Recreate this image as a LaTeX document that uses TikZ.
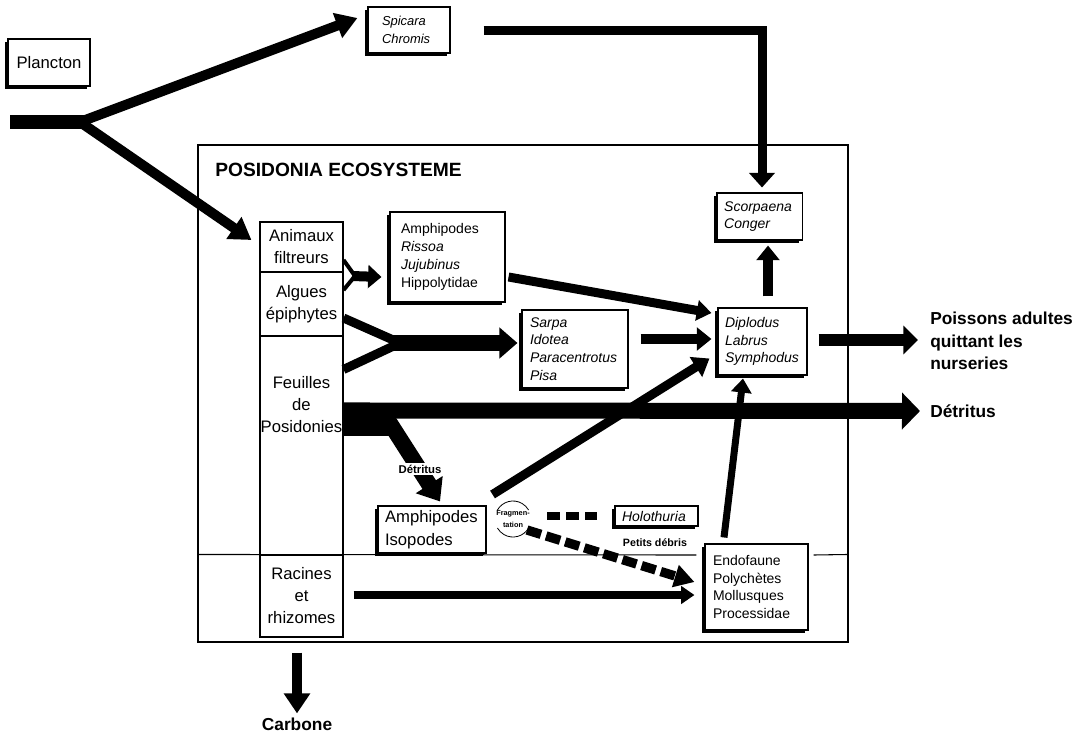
\documentclass[tikz,border=0pt]{standalone}
\usepackage{fontspec}
\setmainfont{Liberation Sans}
\usetikzlibrary{arrows.meta,calc,shadows,backgrounds}
\newcommand\FtBig{\fontsize{12.5}{16.5}\selectfont}
\newcommand\FtSm{\fontsize{10.5}{13.4}\selectfont}
\newcommand\FtBold{\fontsize{13}{17}\selectfont\bfseries}
\begin{document}
\begin{tikzpicture}[x=0.75pt,y=-0.75pt,
  box/.style={draw, fill=white, line width=0.8pt, align=left, inner ysep=0pt,
    drop shadow={shadow xshift=-2.4pt, shadow yshift=-2.4pt, fill=black, opacity=1}},
  cell/.style={draw, line width=0.8pt, minimum width=62.25pt, inner sep=0pt, align=center, font=\FtBig},
  arr/.style n args={3}{line width=#1, -{Triangle[length=#2,width=#3]}},
  lbl/.style={font=\FtBold, align=left, inner sep=0pt}]
\useasboundingbox (0,0) rectangle (1079,733);

% frame
\node[draw, line width=1.2pt, minimum width=487.5pt, minimum height=372.75pt, inner sep=0pt] (eco) at (523,393.5) {};
\node[anchor=west, font=\fontsize{14.4}{17}\selectfont\bfseries, inner sep=0pt] (title) at (215,170) {POSIDONIA ECOSYSTEME};

% left column
\node[cell, minimum height=37.5pt] (animaux) at (301.5,247) {Animaux\\filtreurs};
\node[cell, minimum height=48pt] (algues) at (301.5,304) {Algues\\épiphytes};
\node[cell, minimum height=164.25pt] (feuilles) at (301.5,445.5) {};
\node[font=\FtBig, align=center, inner sep=0pt] (feuillesL) at (301.5,405) {Feuilles\\de\\Posidonies};
\node[cell, minimum height=61.5pt] (racines) at (301.5,596) {Racines\\et\\rhizomes};

% boxes
\node[box, align=center, minimum width=61.5pt, minimum height=35.25pt, font=\FtBig] (plancton) at (49,62.5) {Plancton};
\node[box, text width=40.5pt, inner xsep=10.5pt, minimum height=34.5pt, font=\fontsize{9.7}{13.5}\selectfont\itshape] (spicara) at (409,30) {Spicara\\Chromis};
\node[box, text width=69.75pt, inner xsep=8.25pt, minimum height=67.5pt, font=\FtSm] (amph1) at (447.5,257) {Amphipodes\\\textit{Rissoa}\\\textit{Jujubinus}\\Hippolytidae};
\node[box, text width=67.5pt, inner xsep=6pt, minimum height=58.5pt, font=\FtSm\itshape] (sarpa) at (575,349) {Sarpa\\Idotea\\Paracentrotus\\Pisa};
\node[box, text width=53pt, inner xsep=5.4pt, minimum height=35.25pt, font=\FtSm\itshape] (scorp) at (759.5,216.5) {Scorpaena\\Conger};
\node[box, text width=56.25pt, inner xsep=5.25pt, minimum height=50.25pt, font=\FtSm\itshape] (diplo) at (762.5,341.5) {Diplodus\\Labrus\\Symphodus};
\node[box, text width=70.5pt, inner xsep=5.25pt, minimum height=35.25pt, font=\fontsize{12.5}{17}\selectfont] (amph2) at (432,529.5) {Amphipodes\\Isopodes};
\node[box, text width=51.75pt, inner xsep=5.25pt, minimum height=15pt, font=\FtSm\itshape] (holo) at (656.5,516) {Holothuria};
\node[box, text width=65.25pt, inner xsep=6pt, minimum height=64.5pt, font=\FtSm] (endo) at (756.5,587) {Endofaune\\Polychètes\\Mollusques\\Processidae};

% labels
\node[lbl, anchor=west] (poissons) at (930,341) {Poissons adultes\\quittant les\\nurseries};
\node[lbl, anchor=west] (detr) at (930,411) {Détritus};
\node[lbl] (carbone) at (297,724) {Carbone};
\node[fill=white, inner sep=1pt, font=\fontsize{8.5}{10}\selectfont\bfseries] (detr2) at (420,469) {Détritus};
\node[font=\fontsize{8}{10}\selectfont\bfseries, inner sep=0pt] (petits) at (655,543) {Petits débris};
\node[font=\fontsize{5.5}{9.5}\selectfont\bfseries, align=center, inner sep=0pt] (frag) at (513,519) {Fragmen-\\tation};
\draw[line width=0.6pt] ([shift={(210:18)}]frag.center) arc[start angle=210,end angle=330,radius=18];
\draw[line width=0.6pt] ([shift={(30:18)}]frag.center) arc[start angle=30,end angle=150,radius=18];

\begin{pgfonlayer}{background}
\fill[white] (0,0) rectangle (1079,733);
% divider
\draw[line width=0.8pt] (eco.west |- racines.north) -- ($(endo.west)+(-8,-32)$);
\draw[line width=0.8pt] ($(endo.east)+(5,-32)$) -- (eco.east |- racines.north);

% plancton input
\coordinate (src) at (10,122);
\coordinate (split) at (80,122);
\draw[line width=10.5pt] (src) -- ($(split)+(8,0)$);
\draw[arr={7.5pt}{16pt}{19pt}] (split) -- ($(spicara.west)+(-10,-12)$);
\draw[arr={7.5pt}{16pt}{19pt}] (split) -- ($(animaux.west)+(-8,-7)$);

% spicara -> scorpaena
\draw[arr={6.75pt}{11pt}{19pt}] ($(spicara.east)+(33,0)$) -| ($(scorp.north)+(2.5,-5)$);
% diplodus -> scorpaena
\draw[arr={7.5pt}{11pt}{17pt}] ($(diplo.north)+(5.5,-11)$) -- ($(scorp.south)+(8.5,5)$);
% diplodus -> poissons
\draw[arr={9pt}{11pt}{21pt}] ($(diplo.east)+(11,-1.5)$) -- ($(poissons.west)+(-12,-1)$);

% detritus main
\draw[arr={12pt}{13.5pt}{27pt}] ($(feuilles.north east)+(0,75)$) -- ($(detr.west)+(-10,0)$);
\fill ($(feuilles.north east)+(0,68)$) rectangle ($(feuilles.north east)+(47,101)$);
\draw[arr={12pt}{15pt}{23pt}] ($(feuilles.north east)+(44,84)$) -- ($(amph2.north)+(8,-4)$);

% animaux/algues -> amph1
\coordinate (m1) at (355,276);
\draw[line width=3pt] ($(animaux.east)+(0,13)$) -- (m1);
\draw[line width=3pt] ($(algues.east)+(0,-14)$) -- (m1);
\draw[arr={7.5pt}{10pt}{17pt}] ($(m1)+(-3,0)$) -- ($(amph1.west)+(-8,20)$);

% algues/feuilles -> sarpa
\coordinate (m2) at (400,343);
\draw[line width=6.75pt] ($(algues.east)+(0,14)$) -- (m2);
\draw[line width=6.75pt] ($(feuilles.north east)+(0,34)$) -- (m2);
\draw[arr={12pt}{13.5pt}{22.5pt}] ($(m2)+(-10,0)$) -- ($(sarpa.west)+(-4,-6)$);

% -> diplodus
\draw[arr={6.75pt}{11pt}{15pt}] ($(amph1.east)+(3,20)$) -- ($(diplo.west)+(-6,-28.5)$);
\draw[arr={7.5pt}{11pt}{17pt}] ($(sarpa.east)+(12,-10)$) -- ($(diplo.west)+(-6,-2.5)$);
\draw[arr={6.75pt}{12pt}{17pt}] ($(amph2.east)+(6,-35)$) -- ($(diplo.west)+(-8,17)$);
\draw[arr={5.25pt}{10.5pt}{15pt}] ($(endo.north)+(-32.5,-6)$) -- ($(diplo.south)+(-19.5,3)$);

% fragmentation
\draw[line width=6pt, dash pattern=on 9.75pt off 4.5pt] ($(frag.center)+(34,-3)$) -- ($(holo.west)+(-17,0)$);
\draw[arr={7pt}{15pt}{16.5pt}, dash pattern=on 11pt off 4pt] ($(frag.center)+(14,11)$) -- ($(endo.west)+(-10,-5)$);

% racines -> endofaune
\draw[arr={6pt}{10pt}{13pt}] ($(racines.east)+(10,-1)$) -- ($(endo.west)+(-10,8)$);
% carbone
\draw[arr={7.5pt}{15pt}{19pt}] ($(racines.south)+(-4.5,15)$) -- ($(carbone.north)+(0,-4)$);
\end{pgfonlayer}
\end{tikzpicture}
\end{document}
